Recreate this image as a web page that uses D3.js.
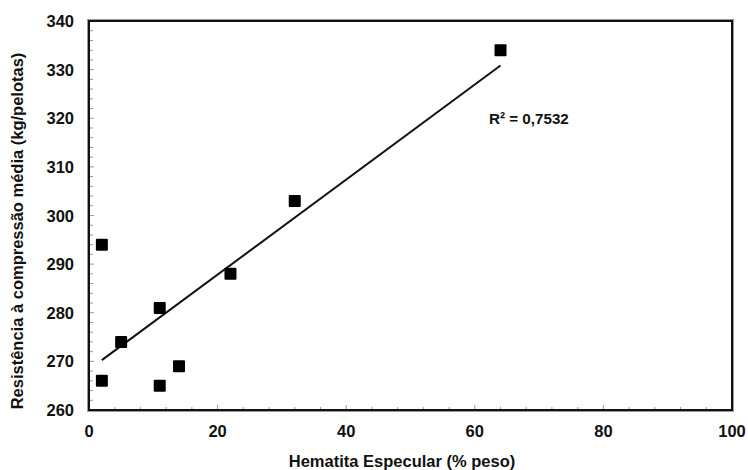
<!DOCTYPE html>
<html>
<head>
<meta charset="utf-8">
<script src="https://cdn.jsdelivr.net/npm/d3@7"></script>
<style>
  body { margin: 0; background: #fff; }
  text { font-family: "Liberation Sans", Arial, sans-serif; font-weight: bold; fill: #111; }
</style>
</head>
<body>
<svg id="chart" width="748" height="470"></svg>
<script>
// data
const hematita = [2, 2, 5, 11, 11, 14, 22, 32, 64];
const resistencia = [294, 266, 274, 281, 265, 269, 288, 303, 334];
const xTicks = [0, 20, 40, 60, 80, 100];
const yTicks = [260, 270, 280, 290, 300, 310, 320, 330, 340];

const width = 748, height = 470;
const margin = { top: 21, right: 16, bottom: 60, left: 89 };
const innerW = width - margin.left - margin.right;
const innerH = height - margin.top - margin.bottom;

const svg = d3.select("#chart");
const g = svg.append("g").attr("transform", `translate(${margin.left},${margin.top})`);

const x = d3.scaleLinear().domain([0, 100]).range([0, innerW]);
const y = d3.scaleLinear().domain([260, 340]).range([innerH, 0]);

// minor ticks (inside the frame)
g.selectAll(".xminor")
  .data(d3.range(0, 100.01, 4))
  .enter().append("line")
  .attr("x1", d => x(d)).attr("x2", d => x(d))
  .attr("y1", innerH).attr("y2", d => innerH - (d % 20 === 0 ? 5 : 3))
  .attr("stroke", "#999").attr("stroke-width", 1);

g.selectAll(".yminor")
  .data(d3.range(260, 340.01, 2))
  .enter().append("line")
  .attr("y1", d => y(d)).attr("y2", d => y(d))
  .attr("x1", 0).attr("x2", d => (d % 10 === 0 ? 5 : 4))
  .attr("stroke", "#999").attr("stroke-width", 1);

// frame
g.append("rect")
  .attr("x", -1.5).attr("y", -1.5)
  .attr("width", innerW + 3).attr("height", innerH + 3)
  .attr("fill", "none").attr("stroke", "#999").attr("stroke-width", 1);
g.append("rect")
  .attr("x", 0).attr("y", 0)
  .attr("width", innerW).attr("height", innerH)
  .attr("fill", "none").attr("stroke", "#111").attr("stroke-width", 2);

// tick labels
g.selectAll(".xlab")
  .data(xTicks)
  .enter().append("text")
  .attr("x", d => x(d)).attr("y", innerH + 27)
  .attr("text-anchor", "middle")
  .style("font-size", "16.5px")
  .text(d => d);

g.selectAll(".ylab")
  .data(yTicks)
  .enter().append("text")
  .attr("x", -15).attr("y", d => y(d) + 6)
  .attr("text-anchor", "end")
  .style("font-size", "16.5px")
  .text(d => d);

// axis titles
svg.append("text")
  .attr("x", 402).attr("y", 467)
  .attr("text-anchor", "middle")
  .style("font-size", "16.5px")
  .text("Hematita Especular (% peso)");

svg.append("text")
  .attr("transform", "translate(23,231) rotate(-90)")
  .attr("text-anchor", "middle")
  .style("font-size", "16.5px")
  .text("Resistência à compressão média (kg/pelotas)");

// linear trend line
const mx = d3.mean(hematita), my = d3.mean(resistencia);
const sxy = d3.sum(hematita, (v, i) => (v - mx) * (resistencia[i] - my));
const sxx = d3.sum(hematita, v => (v - mx) ** 2);
const syy = d3.sum(resistencia, v => (v - my) ** 2);
const slope = sxy / sxx;
const intercept = my - slope * mx;
const r2 = (sxy * sxy) / (sxx * syy);
const ext = d3.extent(hematita);

g.append("line")
  .attr("x1", x(ext[0])).attr("y1", y(intercept + slope * ext[0]))
  .attr("x2", x(ext[1])).attr("y2", y(intercept + slope * ext[1]))
  .attr("stroke", "#111").attr("stroke-width", 2);

// points
const s = 12;
g.selectAll(".pt")
  .data(hematita.map((v, i) => [v, resistencia[i]]))
  .enter().append("rect")
  .attr("x", d => x(d[0]) - s / 2)
  .attr("y", d => y(d[1]) - s / 2)
  .attr("width", s).attr("height", s)
  .attr("rx", 1)
  .attr("fill", "#000");

g.append("text")
  .attr("x", 489 - margin.left).attr("y", 124 - margin.top)
  .style("font-size", "15.2px")
  .text("R² = " + d3.format(".4f")(r2).replace(".", ","));
</script>
</body>
</html>
